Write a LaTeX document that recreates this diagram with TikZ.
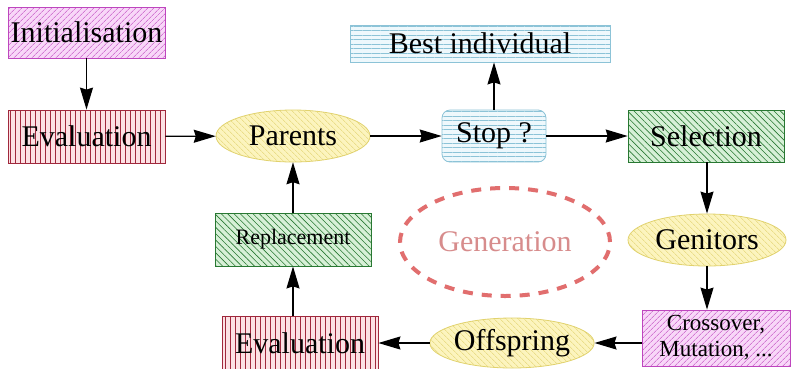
\documentclass[tikz,border=0pt]{standalone}
\usepackage{fontspec}
\setmainfont{Liberation Serif}
\usetikzlibrary{patterns.meta,arrows.meta,shapes.geometric}
\definecolor{purpleline}{RGB}{190,70,190}
\definecolor{purplebg}{RGB}{248,215,248}
\definecolor{redline}{RGB}{160,40,60}
\definecolor{redbg}{RGB}{252,225,228}
\definecolor{yelline}{RGB}{225,210,110}
\definecolor{yelbg}{RGB}{252,244,190}
\definecolor{blueline}{RGB}{140,195,215}
\definecolor{bluebg}{RGB}{238,248,252}
\definecolor{greenline}{RGB}{40,120,50}
\definecolor{greenbg}{RGB}{215,240,215}
\definecolor{genred}{RGB}{225,110,110}
\definecolor{gentext}{RGB}{215,140,140}
\tikzset{
  x=1pt, y=-1pt,
  base/.style={inner sep=0pt, font=\fontsize{30}{31}\selectfont, text=black},
  purplebox/.style={base, rectangle, draw=purpleline, line width=0.8pt,
    preaction={fill=purplebg},
    pattern={Lines[angle=45,distance=4pt,line width=0.6pt]}, pattern color=purpleline},
  redbox/.style={base, rectangle, draw=redline, line width=0.8pt,
    preaction={fill=redbg},
    pattern={Lines[angle=90,distance=5pt,line width=0.8pt]}, pattern color=redline},
  yelell/.style={base, ellipse, draw=yelline, line width=0.8pt,
    preaction={fill=yelbg},
    pattern={Lines[angle=-45,distance=4pt,line width=0.5pt]}, pattern color=yelline},
  bluebox/.style={base, rectangle, draw=blueline, line width=0.8pt,
    preaction={fill=bluebg},
    pattern={Lines[angle=0,distance=4.5pt,line width=0.6pt]}, pattern color=blueline},
  greenbox/.style={base, rectangle, draw=greenline, line width=0.8pt,
    preaction={fill=greenbg},
    pattern={Lines[angle=-45,distance=4.5pt,line width=0.6pt]}, pattern color=greenline},
  arr/.style={draw=black, line width=1.3pt, -{Stealth[length=22pt,width=13pt,inset=2pt]}},
}
\begin{document}
\begin{tikzpicture}
\useasboundingbox (0,0) rectangle (794,368);
\fill[white] (0,0) rectangle (794,368);

\node[purplebox, minimum width=157pt, minimum height=51pt] (init) at (86.5,32.5) {Initialisation};
\node[redbox, minimum width=157pt, minimum height=53pt] (eval1) at (86.5,136.5) {Evaluation};
\node[yelell, minimum width=154pt, minimum height=52pt] (parents) at (293,136) {Parents};
\node[bluebox, rounded corners=8pt, minimum width=104pt, minimum height=52pt] (stop) at (494,136) {Stop ?};
\node[bluebox, minimum width=260pt, minimum height=37pt] (best) at (480,43.5) {Best individual};
\node[greenbox, minimum width=156pt, minimum height=52pt] (sel) at (706,136) {Selection};
\node[yelell, minimum width=158pt, minimum height=52pt] (gen) at (707,240) {Genitors};
\node[purplebox, minimum width=148pt, minimum height=56pt, align=center,
  font=\fontsize{23}{26}\selectfont] (cross) at (716,338) {Crossover,\\Mutation, ...};
\node[yelell, minimum width=158pt, minimum height=50pt] (off) at (512,343) {Offspring};
\node[redbox, minimum width=156pt, minimum height=54pt] (eval2) at (300,343) {Evaluation};
\node[greenbox, minimum width=156pt, minimum height=53pt,
  font=\fontsize{22}{24}\selectfont] (repl) at (293,239.5) {Replacement};
\node[ellipse, draw=genred, line width=4pt, dash pattern=on 10pt off 9pt,
  minimum width=210pt, minimum height=108pt, inner sep=0pt,
  text=gentext, font=\fontsize{30}{31}\selectfont] (generation) at (505,242) {Generation};

\draw[arr] (init) -- (eval1);
\draw[arr] (eval1) -- (parents);
\draw[arr] (parents) -- (stop);
\draw[arr] (stop.north) -- (stop.north |- best.south);
\draw[arr] (stop) -- (sel);
\draw[arr] (sel.south -| gen.north) -- (gen.north);
\draw[arr] (gen.south) -- (gen.south |- cross.north);
\draw[arr] (cross.west |- off.east) -- (off.east);
\draw[arr] (off) -- (eval2);
\draw[arr] (eval2.north -| repl.south) -- (repl.south);
\draw[arr] (repl) -- (parents);
\end{tikzpicture}
\end{document}
